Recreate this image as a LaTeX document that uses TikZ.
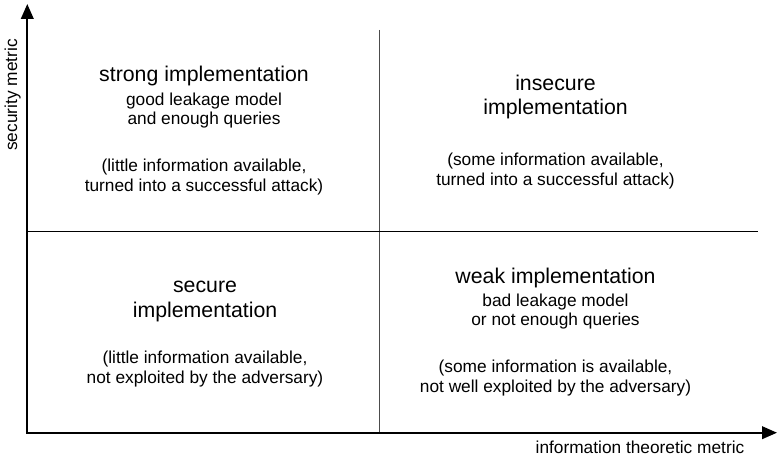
\documentclass[tikz,border=0pt]{standalone}
\usepackage{fontspec}
\setmainfont{Liberation Sans}
\usetikzlibrary{arrows.meta}
\tikzset{
  axis/.style={line width=2pt,-{Triangle[length=15pt,width=12.6pt]}},
  hdiv/.style={line width=1pt,black},
  vdiv/.style={line width=1pt,black!70},
  ttl/.style={anchor=base,inner sep=0pt,font=\fontsize{21.3}{24}\selectfont},
  sml/.style={anchor=base,inner sep=0pt,font=\fontsize{17.3}{20}\selectfont},
}
\begin{document}
\begin{tikzpicture}[x=1pt,y=-1pt]
\useasboundingbox (0,0) rectangle (777,457);
% axes
\coordinate (o) at (27.3,432.7);
\coordinate (ytip) at (27.3,4);
\coordinate (xtip) at (777,432.7);
\coordinate (vtop) at (379.5,30);
\coordinate (vbot) at (379.5,432.7);
\coordinate (hl) at (27.3,231.7);
\coordinate (hr) at (758,231.7);
\draw[vdiv] (vtop) -- (vbot);
\draw[hdiv] (hl) -- (hr);
\draw[axis] ([yshift=1pt]o) -- (ytip);
\draw[axis] ([xshift=-1pt]o) -- (xtip);
\node[sml,rotate=90] (ylab) at (17,95) {security metric};
\node[sml] (xlab) at (640,453) {information theoretic metric};
% Q1
\node[ttl] (q1a) at (204,82) {strong implementation};
\node[sml] (q1b) at (204,105.5) {good leakage model};
\node[sml] (q1c) at (204,125) {and enough queries};
\node[sml] (q1d) at (204,172) {(little information available,};
\node[sml] (q1e) at (204,192) {turned into a successful attack)};
% Q2
\node[ttl] (q2a) at (555.5,91) {insecure};
\node[ttl] (q2b) at (555.5,115) {implementation};
\node[sml] (q2c) at (555.5,166) {(some information available,};
\node[sml] (q2d) at (555.5,186) {turned into a successful attack)};
% Q3
\node[ttl] (q3a) at (205,293) {secure};
\node[ttl] (q3b) at (205,317) {implementation};
\node[sml] (q3c) at (205,363) {(little information available,};
\node[sml] (q3d) at (205,383) {not exploited by the adversary)};
% Q4
\node[ttl] (q4a) at (555.5,283.5) {weak implementation};
\node[sml] (q4b) at (555.5,306) {bad leakage model};
\node[sml] (q4c) at (555.5,326) {or not enough queries};
\node[sml] (q4d) at (555.5,372.5) {(some information is available,};
\node[sml] (q4e) at (555.5,392.5) {not well exploited by the adversary)};
\end{tikzpicture}
\end{document}
